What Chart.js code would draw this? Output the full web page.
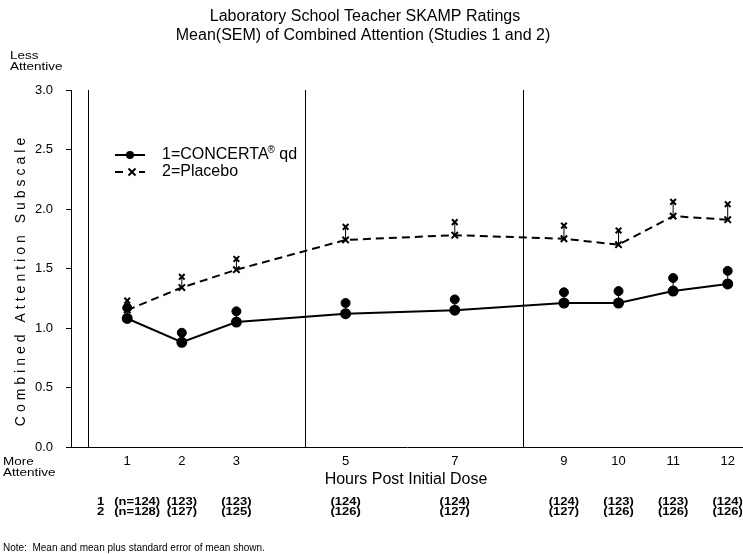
<!DOCTYPE html>
<html>
<head>
<meta charset="utf-8">
<script src="https://cdn.jsdelivr.net/npm/chart.js@4.4.1/dist/chart.umd.min.js"></script>
<style>
  body { margin: 0; background: #fff; }
  canvas { display: block; }
</style>
</head>
<body>
<canvas id="skamp" width="743" height="554"></canvas>
<script>
const hours = [1, 2, 3, 5, 7, 9, 10, 11, 12];
const concertaMean  = [1.08, 0.88, 1.05, 1.12, 1.15, 1.21, 1.21, 1.31, 1.37];
const concertaUpper = [1.17, 0.96, 1.14, 1.21, 1.24, 1.30, 1.31, 1.42, 1.48];
const placeboMean   = [1.15, 1.34, 1.49, 1.74, 1.78, 1.75, 1.70, 1.94, 1.91];
const placeboUpper  = [1.23, 1.43, 1.58, 1.85, 1.89, 1.86, 1.82, 2.06, 2.04];
const nConcerta = ['(n=124)', '(123)', '(123)', '(124)', '(124)', '(124)', '(123)', '(123)', '(124)'];
const nPlacebo  = ['(n=128)', '(127)', '(125)', '(126)', '(127)', '(127)', '(126)', '(126)', '(126)'];
const dividers = [0.28, 4.26, 8.25];
const yTicks = [0, 0.5, 1, 1.5, 2, 2.5, 3];

const FONT = '"Liberation Sans", Arial, sans-serif';

const pts = (ys) => hours.map((h, i) => ({ x: h, y: ys[i] }));
// mean -> mean+SEM stalks, broken by nulls
const stalks = (lo, hi) => {
  let out = [];
  hours.forEach((h, i) => {
    out.push({ x: h, y: lo[i] }, { x: h, y: hi[i] }, { x: h, y: null });
  });
  return out;
};

// squashed text, the source fonts look a bit flattened
function squash(ctx, txt, x, y, sy) {
  ctx.save();
  ctx.translate(x, y);
  ctx.scale(1, sy);
  ctx.fillText(txt, 0, 0);
  ctx.restore();
}

const dividerPlugin = {
  id: 'dividers',
  beforeDatasetsDraw(chart) {
    const { ctx, chartArea, scales } = chart;
    ctx.save();
    ctx.strokeStyle = '#000';
    ctx.lineWidth = 1;
    dividers.forEach(v => {
      const x = Math.round(scales.x.getPixelForValue(v)) + 0.5;
      ctx.beginPath();
      ctx.moveTo(x, chartArea.top);
      ctx.lineTo(x, chartArea.bottom);
      ctx.stroke();
    });
    ctx.restore();
  }
};

const textPlugin = {
  id: 'texts',
  afterDraw(chart) {
    const { ctx, scales } = chart;
    ctx.save();
    ctx.fillStyle = '#000';
    ctx.textBaseline = 'middle';

    // title
    ctx.font = '16px ' + FONT;
    ctx.textAlign = 'center';
    ctx.fillText('Laboratory School Teacher SKAMP Ratings', 365, 17);
    ctx.fillText('Mean(SEM) of Combined Attention (Studies 1 and 2)', 363, 36);

    // x axis title
    ctx.fillText('Hours Post Initial Dose', 406, 480);

    // side notes
    ctx.textAlign = 'left';
    ctx.font = '13.5px ' + FONT;
    squash(ctx, 'Less', 10, 55.5, 0.85);
    squash(ctx, 'Attentive', 10, 66.5, 0.85);
    squash(ctx, 'More', 3, 461.5, 0.85);
    squash(ctx, 'Attentive', 3, 473, 0.85);

    // y axis title, letter spaced
    ctx.save();
    ctx.translate(21, 282);
    ctx.rotate(-Math.PI / 2);
    ctx.font = '14px ' + FONT;
    ctx.letterSpacing = '4px';
    ctx.textAlign = 'center';
    ctx.fillText('Combined Attention Subscale', 2, 0);
    ctx.restore();

    // legend
    ctx.strokeStyle = '#000';
    ctx.lineWidth = 2;
    ctx.beginPath();
    ctx.moveTo(115, 155); ctx.lineTo(145, 155);
    ctx.stroke();
    ctx.beginPath();
    ctx.arc(130, 155, 4, 0, Math.PI * 2);
    ctx.fill();
    ctx.beginPath();
    ctx.moveTo(115, 172); ctx.lineTo(123, 172);
    ctx.moveTo(139, 172); ctx.lineTo(145, 172);
    ctx.moveTo(128.5, 168.5); ctx.lineTo(135.5, 175.5);
    ctx.moveTo(135.5, 168.5); ctx.lineTo(128.5, 175.5);
    ctx.stroke();

    ctx.font = '16px ' + FONT;
    let t1 = '1=CONCERTA';
    ctx.fillText(t1, 162, 155);
    let w1 = ctx.measureText(t1).width;
    ctx.font = '10px ' + FONT;
    ctx.fillText('®', 162 + w1 - 1, 150);
    let w2 = ctx.measureText('®').width;
    ctx.font = '16px ' + FONT;
    ctx.fillText(' qd', 162 + w1 + w2 - 1, 155);
    ctx.fillText('2=Placebo', 162, 172);

    // n table
    ctx.font = 'bold 13px ' + FONT;
    [[nConcerta, 501.5, '1'], [nPlacebo, 511.5, '2']].forEach(([labels, y, tag]) => {
      ctx.textAlign = 'left';
      squash(ctx, tag, 97, y, 0.86);
      ctx.textAlign = 'center';
      labels.forEach((lab, i) => {
        let x = scales.x.getPixelForValue(hours[i]);
        if (i === 0) x += 10;
        squash(ctx, lab, x, y, 0.86);
      });
    });

    // note
    ctx.textAlign = 'left';
    ctx.font = '10px ' + FONT;
    ctx.fillText('Note:  Mean and mean plus standard error of mean shown.', 3, 548.5);
    ctx.restore();
  }
};

const chart = new Chart(document.getElementById('skamp'), {
  type: 'line',
  data: {
    datasets: [
      { label: 'sem1', data: stalks(concertaMean, concertaUpper), borderColor: '#000', borderWidth: 1,
        pointRadius: 0, spanGaps: false },
      { label: 'sem2', data: stalks(placeboMean, placeboUpper), borderColor: '#000', borderWidth: 1,
        pointRadius: 0, spanGaps: false },
      { label: '1=CONCERTA qd', data: pts(concertaMean), borderColor: '#000', borderWidth: 2,
        pointStyle: 'circle', pointRadius: 4.5, pointBackgroundColor: '#000', pointBorderColor: '#000' },
      { label: '2=Placebo', data: pts(placeboMean), borderColor: '#000', borderWidth: 2, borderDash: [8, 5],
        pointStyle: 'crossRot', pointRadius: 4.5, pointBorderWidth: 2, pointBorderColor: '#000' },
      { label: 'up1', data: pts(concertaUpper), showLine: false,
        pointStyle: 'circle', pointRadius: 4.5, pointBackgroundColor: '#000', pointBorderColor: '#000' },
      { label: 'up2', data: pts(placeboUpper), showLine: false,
        pointStyle: 'crossRot', pointRadius: 4, pointBorderWidth: 2, pointBorderColor: '#000' }
    ]
  },
  options: {
    responsive: false, animation: false,
    layout: { autoPadding: false, padding: { top: 90, left: 0, right: 0, bottom: 0 } },
    plugins: { legend: { display: false }, tooltip: { enabled: false } },
    scales: {
      x: {
        type: 'linear', min: -0.03, max: 12.28, offset: false,
        afterBuildTicks: (s) => { s.ticks = hours.map(v => ({ value: v })); },
        afterFit: (s) => { s.height = 107; s.paddingRight = 0; s.paddingLeft = 0; },
        grid: { display: false, drawTicks: false },
        border: { display: true, color: '#000', width: 1 },
        ticks: { color: '#000', font: { family: FONT, size: 13 }, padding: 7, autoSkip: false, maxRotation: 0 }
      },
      y: {
        min: 0, max: 3,
        afterBuildTicks: (s) => { s.ticks = yTicks.map(v => ({ value: v })); },
        afterFit: (s) => { s.width = 71; },
        grid: { drawOnChartArea: false, drawTicks: true, tickLength: 5, color: '#000' },
        border: { display: true, color: '#000', width: 1 },
        ticks: { color: '#000', font: { family: FONT, size: 13 }, padding: 13,
          callback: (v) => v.toFixed(1) }
      }
    }
  },
  plugins: [dividerPlugin, textPlugin]
});
</script>
</body>
</html>
